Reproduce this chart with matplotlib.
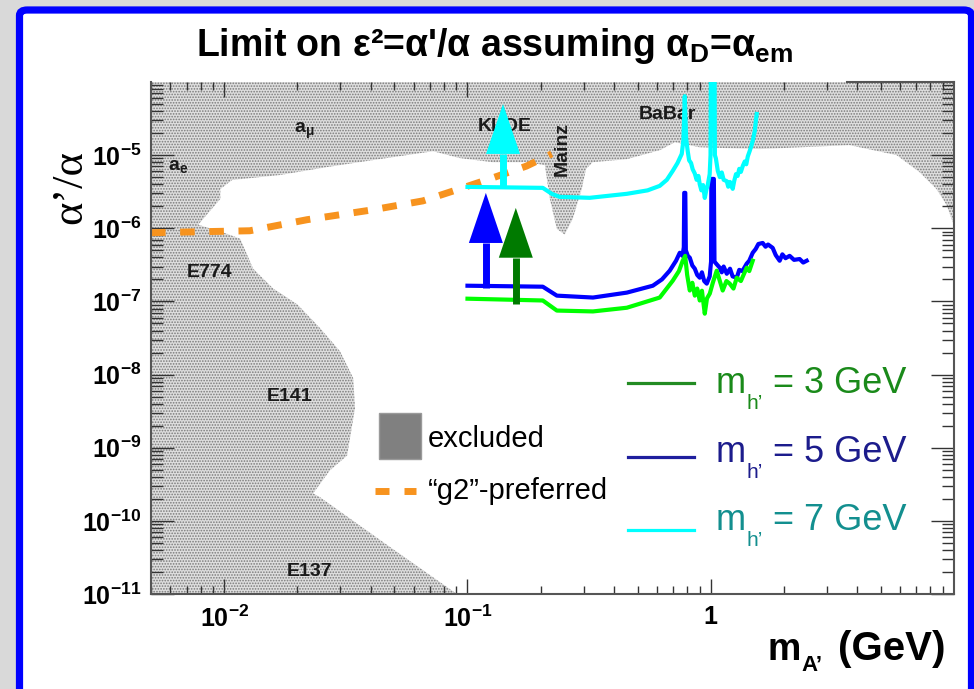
import matplotlib
matplotlib.use("Agg")
import matplotlib.pyplot as plt
from matplotlib.patches import Rectangle, FancyBboxPatch
from matplotlib.lines import Line2D
from matplotlib.ticker import FixedLocator, FixedFormatter, LogLocator, NullFormatter

plt.rcParams["font.family"] = ["Liberation Sans", "DejaVu Sans"]
plt.rcParams["font.weight"] = "bold"
plt.rcParams["mathtext.fontset"] = "custom"
plt.rcParams["mathtext.rm"] = "Liberation Sans"
plt.rcParams["mathtext.bf"] = "Liberation Sans:bold"
plt.rcParams["mathtext.it"] = "Liberation Sans:italic"
plt.rcParams["hatch.color"] = "#7a7a7a"
plt.rcParams["hatch.linewidth"] = 0.8

# ---------------- data ----------------
x_limits = [0.005, 10.0]
y_limits = [1e-11, 1e-4]
x_ticks = [0.01, 0.1, 1.0]
x_tick_labels = [r"$\mathregular{10^{-2}}$", r"$\mathregular{10^{-1}}$", "1"]
y_ticks = [1e-11, 1e-10, 1e-9, 1e-8, 1e-7, 1e-6, 1e-5]
y_tick_labels = [r"$\mathregular{10^{-11}}$", r"$\mathregular{10^{-10}}$",
                 r"$\mathregular{10^{-9}}$", r"$\mathregular{10^{-8}}$",
                 r"$\mathregular{10^{-7}}$", r"$\mathregular{10^{-6}}$",
                 r"$\mathregular{10^{-5}}$"]

# boundary of the still-allowed (white) region; everything else is excluded
allowed_m = [0.0905, 0.0471, 0.0248, 0.0232, 0.0272, 0.032, 0.0345, 0.0339,
             0.0299, 0.0248, 0.0200, 0.0159, 0.01315, 0.01163, 0.01028,
             0.00782, 0.00964, 0.00964, 0.01078, 0.01698, 0.0265, 0.0409,
             0.0597, 0.0722, 0.0931, 0.127, 0.175, 0.208, 0.218, 0.233,
             0.251, 0.271, 0.295, 0.307, 0.327, 0.452, 0.618, 0.712, 0.90,
             1.59, 3.72, 5.81, 7.21, 8.47, 9.31, 10.0, 10.0]
allowed_eps2 = [1e-11, 4.6e-11, 2.1e-10, 2.37e-10, 4.9e-10, 7.8e-10, 3.5e-9,
                8.95e-9, 2.09e-8, 4.3e-8, 9.1e-8, 1.5e-7, 2.8e-7, 7.2e-7,
                8.4e-7, 1.12e-6, 2.52e-6, 3.44e-6, 4.57e-6, 5.35e-6, 6.87e-6,
                8.55e-6, 1.03e-5, 1.13e-5, 9.1e-6, 8.0e-6, 8.0e-6, 7.3e-6,
                2.52e-6, 9.8e-7, 8.2e-7, 1.35e-6, 3.44e-6, 6.45e-6, 8.0e-6,
                8.8e-6, 1.17e-5, 1.5e-5, 1.28e-5, 1.21e-5, 1.37e-5, 1.0e-5,
                5.87e-6, 3.44e-6, 2.09e-6, 1.1e-6, 1e-11]

region_labels = ["a$_{\\mathregular{μ}}$", "a$_{\\mathregular{e}}$", "E774", "E141",
                 "E137", "KLOE", "Mainz", "BaBar"]
region_label_m = [0.0214, 0.00645, 0.00873, 0.0186, 0.0225, 0.142, 0.246, 0.666]
region_label_eps2 = [2.14e-5, 7.1e-6, 2.47e-7, 5.0e-9, 2.0e-11, 2.5e-5, 1.22e-5, 3.65e-5]
region_label_rot = [0, 0, 0, 0, 0, 0, 90, 0]

# g-2 preferred band (dashed)
g2_m = [0.005, 0.01274, 0.0219, 0.0408, 0.0656, 0.0929, 0.127, 0.175, 0.222]
g2_eps2 = [8.7e-7, 9.25e-7, 1.31e-6, 1.79e-6, 2.37e-6, 3.46e-6, 4.89e-6, 7.1e-6, 1.04e-5]

# reach curves for the three dark-Higgs masses
m7 = [0.100, 0.204, 0.222, 0.239, 0.318, 0.452, 0.55, 0.617, 0.66, 0.698, 0.73,
      0.760, 0.772, 0.782, 0.792, 0.804, 0.815, 0.83, 0.843, 0.86, 0.875, 0.89,
      0.901, 0.915, 0.93, 0.945, 0.96, 0.972, 0.99, 0.998, 1.003, 1.035, 1.04,
      1.05, 1.069, 1.09, 1.11, 1.13, 1.164, 1.18, 1.2, 1.231, 1.25, 1.27, 1.29,
      1.31, 1.33, 1.354, 1.38, 1.40, 1.42, 1.446, 1.47, 1.49, 1.517, 1.53, 1.545]
eps2_7 = [3.68e-6, 3.57e-6, 2.96e-6, 2.69e-6, 2.61e-6, 2.96e-6, 3.3e-6, 3.8e-6,
          4.6e-6, 6.1e-6, 7.8e-6, 1.04e-5, 1.6e-5, 6.4e-5, 1.7e-5, 1.14e-5,
          8.5e-6, 7.8e-6, 6.4e-6, 5.6e-6, 4.6e-6, 5.2e-6, 4.0e-6, 3.3e-6,
          3.9e-6, 2.6e-6, 3.4e-6, 3.9e-6, 5.5e-6, 1e-5, 1e-3, 1e-3, 1e-5,
          9e-6, 6.1e-6, 5.0e-6, 5.8e-6, 4.6e-6, 4.4e-6, 3.7e-6, 4.3e-6,
          3.46e-6, 4.5e-6, 5.5e-6, 5.2e-6, 6.5e-6, 5.9e-6, 7.1e-6, 8.2e-6,
          7.5e-6, 9.6e-6, 1.14e-5, 1.35e-5, 1.6e-5, 2.14e-5, 2.8e-5, 3.65e-5]

m5 = [0.100, 0.204, 0.233, 0.328, 0.452, 0.578, 0.63, 0.678, 0.72, 0.746, 0.765,
      0.775, 0.778, 0.786, 0.79, 0.805, 0.820, 0.84, 0.86, 0.88, 0.901, 0.92,
      0.94, 0.963, 0.99, 1.003, 1.006, 1.03, 1.036, 1.06, 1.089, 1.11, 1.13,
      1.164, 1.2, 1.23, 1.279, 1.31, 1.35, 1.405, 1.44, 1.488, 1.53, 1.57,
      1.635, 1.68, 1.72, 1.797, 1.85, 1.92, 1.97, 2.03, 2.11, 2.2, 2.32, 2.4, 2.48]
eps2_5 = [1.64e-7, 1.59e-7, 1.2e-7, 1.13e-7, 1.32e-7, 1.64e-7, 2.0e-7, 2.63e-7,
          3.6e-7, 4.63e-7, 4.2e-7, 5.5e-7, 3.05e-6, 3.05e-6, 5.0e-7, 4.2e-7,
          3.96e-7, 3.1e-7, 2.8e-7, 2.3e-7, 2.11e-7, 2.5e-7, 1.9e-7, 1.75e-7,
          2.2e-7, 3.5e-7, 4.73e-6, 4.73e-6, 3.5e-7, 3.2e-7, 2.89e-7, 2.5e-7,
          3.0e-7, 2.39e-7, 2.8e-7, 2.2e-7, 2.11e-7, 2.7e-7, 2.6e-7, 3.28e-7,
          3.6e-7, 4.63e-7, 5.2e-7, 6.1e-7, 6.3e-7, 5.6e-7, 6.0e-7, 5.4e-7,
          4.3e-7, 3.6e-7, 4.4e-7, 3.9e-7, 4.2e-7, 3.7e-7, 3.8e-7, 3.4e-7, 3.6e-7]

m3 = [0.100, 0.204, 0.233, 0.328, 0.452, 0.617, 0.698, 0.74, 0.767, 0.785, 0.80,
      0.82, 0.84, 0.86, 0.88, 0.901, 0.92, 0.945, 0.965, 0.991, 1.02, 1.058,
      1.09, 1.12, 1.16, 1.197, 1.24, 1.279, 1.33, 1.405, 1.44, 1.488]
eps2_3 = [1.09e-7, 1.03e-7, 7.5e-8, 7.3e-8, 8.2e-8, 1.13e-7, 1.92e-7, 2.6e-7,
          3.6e-7, 4.2e-7, 2.3e-7, 1.41e-7, 1.8e-7, 1.2e-7, 1.5e-7, 1.03e-7,
          1.4e-7, 6.8e-8, 1.1e-7, 1.28e-7, 1.8e-7, 2.63e-7, 1.9e-7, 1.41e-7,
          1.9e-7, 1.75e-7, 1.5e-7, 2.11e-7, 1.9e-7, 2.89e-7, 2.6e-7, 3.6e-7]

# arrows: (mass, start, head base, tip)
arrow_m = [0.140, 0.119, 0.158]
arrow_start = [3.68e-6, 1.54e-7, 9.3e-8]
arrow_head_base = [1.04e-5, 6.3e-7, 3.96e-7]
arrow_tip = [5.0e-5, 3.05e-6, 1.9e-6]
arrow_colors = ["#00ffff", "#0000ff", "#007a00"]

legend_masses = ["3", "5", "7"]
legend_line_colors = ["#238b23", "#1f1f9e", "#00ffff"]
legend_text_colors = ["#1a8a1a", "#1c1c8c", "#138f8f"]

# ---------------- figure ----------------
W, H = 974, 689
fig = plt.figure(figsize=(W / 100, H / 100), dpi=100)
fig.patch.set_facecolor("#d9d9d9")


def fx(x):
    return x / W


def fy(y):
    return 1 - y / H


panel = FancyBboxPatch((fx(19.5), -0.05), fx(971.5) - fx(19.5), fy(10) + 0.05,
                       boxstyle="round,pad=0,rounding_size=0.008",
                       transform=fig.transFigure, facecolor="white",
                       edgecolor="#0000ff", linewidth=5.2, zorder=0)
fig.add_artist(panel)

ax = fig.add_axes([fx(151), fy(594), fx(954) - fx(151), fy(82) - fy(594)])
ax.set_xscale("log")
ax.set_yscale("log")
ax.set_xlim(*x_limits)
ax.set_ylim(*y_limits)
ax.patch.set_alpha(0)

# excluded parameter space (stippled grey) with the allowed window cut out
ax.fill_between(x_limits, y_limits[0], y_limits[1], facecolor="#dedede",
                edgecolor="#7a7a7a", hatch="......", linewidth=0, zorder=1)
ax.fill(allowed_m, allowed_eps2, facecolor="white", edgecolor="none", zorder=1.5)

for txt, m, e, r in zip(region_labels, region_label_m, region_label_eps2, region_label_rot):
    ax.text(m, e, txt, fontsize=14, fontweight="bold", color="#1a1a1a",
            ha="center", va="center", rotation=r, zorder=2)

ax.plot(g2_m, g2_eps2, color="#f7931e", lw=5, linestyle=(0, (2.1, 2.1)),
        dash_capstyle="butt", zorder=3)

ax.plot(m5, eps2_5, color="#0000ff", lw=3, zorder=4)
ax.plot(m3, eps2_3, color="#00ff00", lw=3, zorder=4.1)
ax.plot(m7, eps2_7, color="#00ffff", lw=3, zorder=4.2)

half_w = 10 ** (17 / 243.3)
for m, s, hb, t, c in zip(arrow_m, arrow_start, arrow_head_base, arrow_tip, arrow_colors):
    ax.plot([m, m], [s, hb], color=c, lw=5, solid_capstyle="butt", zorder=5)
    ax.fill([m / half_w, m * half_w, m], [hb, hb, t], color=c, lw=0, zorder=5)

# axes styling
ax.xaxis.set_major_locator(FixedLocator(x_ticks))
ax.xaxis.set_major_formatter(FixedFormatter(x_tick_labels))
ax.xaxis.set_minor_locator(LogLocator(base=10, subs=range(2, 10), numticks=30))
ax.xaxis.set_minor_formatter(NullFormatter())
ax.yaxis.set_major_locator(FixedLocator(y_ticks))
ax.yaxis.set_major_formatter(FixedFormatter(y_tick_labels))
ax.yaxis.set_minor_locator(LogLocator(base=10, subs=range(2, 10), numticks=30))
ax.yaxis.set_minor_formatter(NullFormatter())

ax.tick_params(axis="x", which="major", direction="in", length=11, width=1.0,
               color="#333333", top=True, bottom=True, pad=8, labelsize=18)
ax.tick_params(axis="x", which="minor", direction="in", length=5.5, width=1.0,
               color="#333333", top=True, bottom=True)
ax.tick_params(axis="y", which="major", direction="in", length=16.5, width=1.0,
               color="#333333", left=True, right=True, pad=7, labelsize=18)
ax.tick_params(axis="y", which="minor", direction="in", length=8.5, width=1.0,
               color="#333333", left=True, right=True)
for sp in ax.spines.values():
    sp.set_color("#555555")
    sp.set_linewidth(1.5)
    sp.set_zorder(6)
ax.spines["top"].set_bounds(3.62, 10.0)

# titles and axis labels
fig.text(fx(494), fy(46), r"Limit on ε²=α'/α assuming α$_{\mathregular{D}}$=α$_{\mathregular{em}}$",
         fontsize=27, fontweight="bold", ha="center", va="center")
fig.text(fx(70), fy(187), "α’/α", family=["Liberation Serif", "DejaVu Serif"],
         fontsize=32, fontweight="normal", rotation=90, ha="center", va="center")
fig.text(fx(768), fy(660), "m", fontsize=27, fontweight="bold", va="baseline")
fig.text(fx(801), fy(671), "A’", fontsize=16, fontweight="bold", va="baseline")
fig.text(fx(946), fy(660), "(GeV)", fontsize=29, fontweight="bold", va="baseline", ha="right")

# legend: excluded / g2-preferred
fig.add_artist(Rectangle((fx(379), fy(459)), fx(421) - fx(379), fy(413) - fy(459),
                         transform=fig.transFigure, facecolor="#808080",
                         edgecolor="#9a9a9a", lw=1))
fig.text(fx(428), fy(447), "excluded", fontsize=21, fontweight="normal", va="baseline")
for x0, x1 in [(375, 389), (404, 416)]:
    fig.add_artist(Line2D([fx(x0), fx(x1)], [fy(491), fy(491)], transform=fig.transFigure,
                          color="#f7931e", lw=5, solid_capstyle="butt"))
fig.text(fx(428), fy(499), "“g2”-preferred", fontsize=21, fontweight="normal", va="baseline")

# legend: dark Higgs masses
line_rows = [383, 457, 530]
text_rows = [393, 462, 530]
for mass, lc, tc, ly, ty in zip(legend_masses, legend_line_colors, legend_text_colors,
                                line_rows, text_rows):
    fig.add_artist(Line2D([fx(628), fx(694)], [fy(ly), fy(ly)], transform=fig.transFigure,
                          color=lc, lw=2.3))
    fig.text(fx(716), fy(ty), "m", fontsize=26, fontweight="normal", color=tc, va="baseline")
    fig.text(fx(747), fy(ty + 16), "h’", fontsize=15, fontweight="normal", color=tc, va="baseline")
    fig.text(fx(773), fy(ty), "= " + mass + " GeV", fontsize=26, fontweight="normal",
             color=tc, va="baseline")

fig.savefig("out.png", dpi=100, facecolor=fig.get_facecolor())
